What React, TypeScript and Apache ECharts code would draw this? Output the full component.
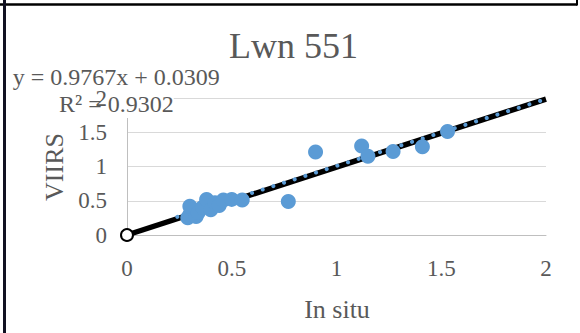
import React, { useEffect, useRef } from "react";
import * as echarts from "echarts";

const titleText = "Lwn 551";
const xName = "In situ";
const yName = "VIIRS";
const equationText = "y = 0.9767x + 0.0309";
const r2Text = "R² = 0.9302";
const slope = 0.9767;
const intercept = 0.0309;

const inSitu = [0.29, 0.30, 0.31, 0.30, 0.33, 0.34, 0.36, 0.38, 0.40, 0.42, 0.44, 0.46, 0.50, 0.55, 0.77, 0.90, 1.12, 1.15, 1.27, 1.41, 1.53];
const viirs = [0.25, 0.30, 0.38, 0.42, 0.27, 0.33, 0.40, 0.52, 0.37, 0.47, 0.43, 0.51, 0.52, 0.51, 0.49, 1.21, 1.30, 1.15, 1.22, 1.29, 1.51];
const axisMin = 0;
const axisMax = 2;
const axisStep = 0.5;
const trendStart = 0.24;
const trendEnd = 2;

const FONT = "Liberation Serif";
const TXT = "#595959";

export default function App() {
  const ref = useRef<HTMLDivElement>(null);
  useEffect(() => {
    const chart = echarts.init(ref.current!, null, { renderer: "svg" });
    const pts = inSitu.map((x, i) => [x, viirs[i]]);
    const f = (x: number) => slope * x + intercept;
    const labelStyle = { fontFamily: FONT, fontSize: 23, color: TXT };
    chart.setOption({
      animation: false,
      backgroundColor: "#ffffff",
      grid: { left: 127, right: 34, top: 98, bottom: 98 },
      xAxis: {
        type: "value",
        min: axisMin,
        max: axisMax,
        interval: axisStep,
        axisLine: { show: true, lineStyle: { color: "#bfbfbf", width: 1 } },
        axisTick: { show: false },
        splitLine: { show: false },
        axisLabel: { ...labelStyle, margin: 22 },
        z: 0,
      },
      yAxis: [
        {
          type: "value",
          min: axisMin,
          max: axisMax,
          interval: axisStep,
          axisLine: { show: true, lineStyle: { color: "#bfbfbf", width: 1 } },
          axisTick: { show: false },
          splitLine: { show: true, lineStyle: { color: "#d9d9d9", width: 1 } },
          axisLabel: { show: false },
          z: 0,
        },
        {
          type: "value",
          position: "left",
          min: axisMin,
          max: axisMax,
          interval: axisStep,
          axisLine: { show: false },
          axisTick: { show: false },
          splitLine: { show: false },
          axisLabel: { ...labelStyle, margin: 20 },
          z: 3,
        },
      ],
      series: [
        {
          type: "line",
          data: [
            { value: [0, 0], symbol: "circle", symbolSize: 12, itemStyle: { color: "#ffffff", borderColor: "#000000", borderWidth: 2 } },
            { value: [trendEnd, f(trendEnd)], symbol: "none" },
          ],
          showSymbol: true,
          lineStyle: { color: "#000000", width: 5.5 },
          z: 4,
        },
        {
          type: "line",
          data: [[trendStart, f(trendStart)], [trendEnd, f(trendEnd)]],
          symbol: "none",
          lineStyle: { color: "#5b9bd5", width: 4, type: [0.1, 11.1], cap: "round" },
          z: 5,
        },
        {
          type: "scatter",
          data: pts,
          symbolSize: 15,
          itemStyle: { color: "#5b9bd5", opacity: 1 },
          z: 6,
        },
      ],
      graphic: [
        { type: "text", x: 293.5, y: 45.5, z: 1, style: { text: titleText, font: `36px ${FONT}`, fill: TXT, align: "center", verticalAlign: "middle" } },
        { type: "text", x: 12.7, y: 77.4, z: 1, style: { text: equationText, font: `24px ${FONT}`, fill: TXT, align: "left", verticalAlign: "middle" } },
        { type: "text", x: 59, y: 104, z: 1, style: { text: r2Text, font: `24px ${FONT}`, fill: TXT, align: "left", verticalAlign: "middle", backgroundColor: "#ffffff", lineHeight: 28 } },
        { type: "text", x: 337, y: 309, z: 1, style: { text: xName, font: `26px ${FONT}`, fill: TXT, align: "center", verticalAlign: "middle" } },
        { type: "text", x: 54.4, y: 167, z: 1, rotation: Math.PI / 2, style: { text: yName, font: `26px ${FONT}`, fill: TXT, align: "center", verticalAlign: "middle" } },
        { type: "line", z: 10, shape: { x1: 0, y1: 4.5, x2: 577, y2: 4.5 }, style: { stroke: "#000000", lineWidth: 2.5 } },
        { type: "line", z: 10, shape: { x1: 577, y1: 0, x2: 577, y2: 5.5 }, style: { stroke: "#000000", lineWidth: 2 } },
        { type: "line", z: 10, shape: { x1: 4.5, y1: 0, x2: 4.5, y2: 333 }, style: { stroke: "#111122", lineWidth: 3 } },
      ],
    });
    return () => chart.dispose();
  }, []);
  return <div ref={ref} style={{ position: "absolute", left: 0, top: 0, width: 580, height: 333 }} />;
}
